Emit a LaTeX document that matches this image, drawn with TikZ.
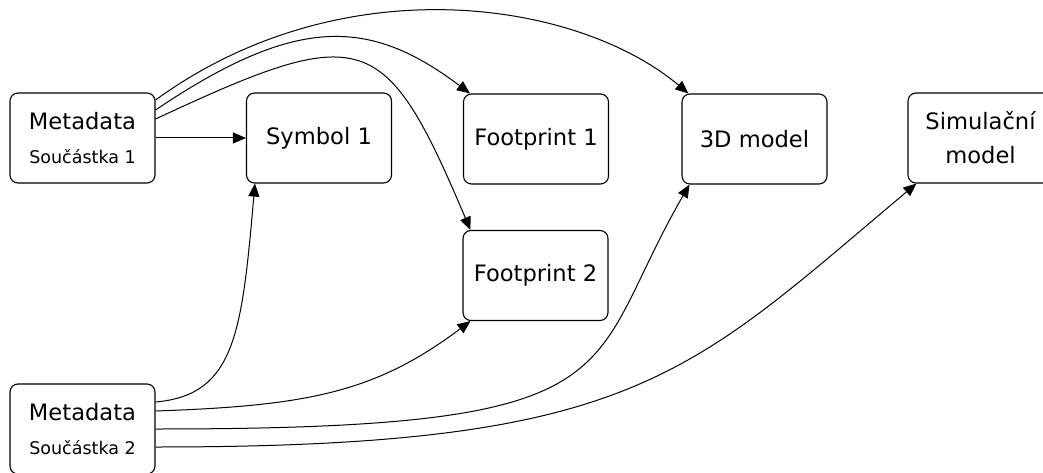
\documentclass[tikz,border=0pt]{standalone}
\usepackage{fontspec}
\setmainfont{DejaVu Sans}
\usetikzlibrary{arrows.meta}
\newcommand{\partlabel}[1]{{\fontsize{17.5}{34}\selectfont #1}}

\begin{document}
\begin{tikzpicture}[x=1pt, y=1pt,
    box/.style={draw, rectangle, rounded corners=8pt, line width=1.1pt,
        minimum width=145pt, minimum height=90pt, inner sep=0pt,
        align=center, font=\fontsize{22.6}{34}\selectfont},
    arr/.style={-{Triangle[length=13pt,width=11pt]}, line width=1pt}]
    \useasboundingbox (0,0) rectangle (1043,472);

    \node[box] (meta1) at (82.5,334) {Metadata\\\partlabel{Součástka 1}};
    \node[box] (sym1) at (319,334) {Symbol 1};
    \node[box] (fp1) at (536,333) {Footprint 1};
    \node[box] (fp2) at (535.5,196.5) {Footprint 2};
    \node[box] (model) at (754.5,333) {3D model};
    \node[box] (sim) at (980.5,334) {Simulační\\model};
    \node[box] (meta2) at (82.5,43) {Metadata\\\partlabel{Součástka 2}};

    \draw[arr] (meta1.east) -- (sym1.west);
    \draw[arr] ([yshift=38pt]meta1.east) .. controls +(36:230) and +(140:146) .. ([xshift=7pt]model.north west);
    \draw[arr] ([yshift=28pt]meta1.east) .. controls +(34:170) and +(143:126) .. ([xshift=7pt]fp1.north west);
    \draw[arr] ([yshift=19pt]meta1.east) .. controls +(25:230) and +(113:220) .. ([xshift=8pt]fp2.north west);

    \draw[arr] ([yshift=27pt]meta2.east) .. controls +(5:80) and +(265:150) .. ([xshift=9pt]sym1.south west);
    \draw[arr] ([yshift=18pt]meta2.east) .. controls +(2:150) and +(217:120) .. ([xshift=8pt]fp2.south west);
    \draw[arr] (meta2.east) .. controls +(0:490) and +(240:220) .. ([xshift=8pt]model.south west);
    \draw[arr] ([yshift=-18pt]meta2.east) .. controls +(0:480) and +(220:300) .. ([xshift=9pt]sim.south west);
\end{tikzpicture}
\end{document}
